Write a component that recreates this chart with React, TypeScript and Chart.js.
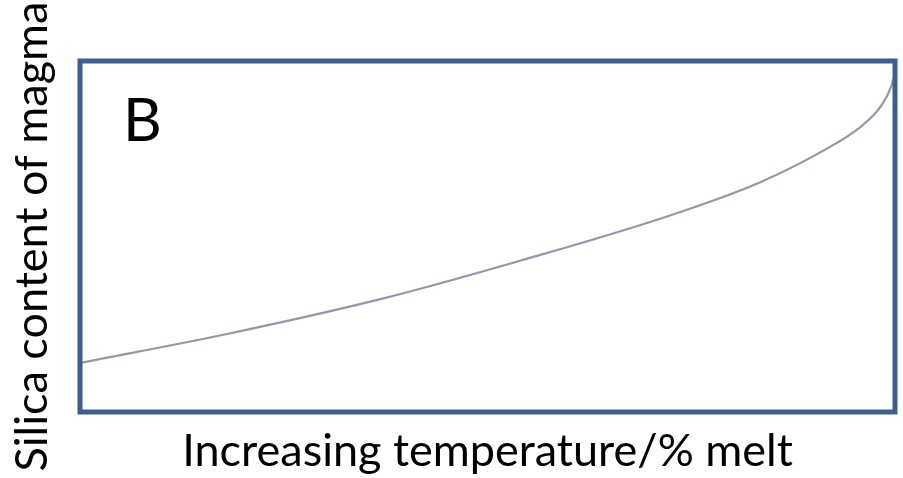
import React, { useEffect, useRef } from "react";
import { Chart, registerables } from "chart.js";

Chart.register(...registerables);

const meltPercent = [0, 18.2, 36.6, 54, 72.4, 83.4, 91.7, 95.7, 98.2, 99.6, 99.8];
const silicaContent = [14, 22.3, 32, 43.1, 56, 65.4, 75.1, 81.1, 86.9, 93.1, 95];
const xAxisLabel = "Increasing temperature/% melt";
const yAxisLabel = "Silica content of magma";
const panelLabel = "B";

const FONT = "Lato, 'Open Sans', sans-serif";

const boxPlugin = {
  id: "boxAndLabel",
  afterDraw(chart: any) {
    const { ctx, chartArea } = chart;
    const { left, top, right, bottom } = chartArea;
    ctx.save();
    ctx.strokeStyle = "#3B5E8E";
    ctx.lineWidth = 5;
    ctx.lineJoin = "miter";
    ctx.strokeRect(left, top, right - left, bottom - top);
    ctx.fillStyle = "#000000";
    ctx.font = `60px ${FONT}`;
    ctx.textBaseline = "alphabetic";
    ctx.textAlign = "left";
    ctx.fillText(panelLabel, left + 43, top + 80);
    ctx.restore();
  },
};

export default function App() {
  const canvasRef = useRef<HTMLCanvasElement | null>(null);

  useEffect(() => {
    document.body.style.margin = "0";
    const canvas = canvasRef.current;
    if (!canvas) return;
    const chart = new Chart(canvas, {
      type: "line",
      data: {
        datasets: [
          {
            data: meltPercent.map((x, i) => ({ x, y: silicaContent[i] })),
            borderColor: "#9297A9",
            borderWidth: 2.2,
            pointRadius: 0,
            cubicInterpolationMode: "monotone",
            fill: false,
          },
        ],
      },
      options: {
        animation: false,
        responsive: false,
        maintainAspectRatio: false,
        layout: { padding: { left: 5, right: 8, top: 61, bottom: 0 } },
        plugins: {
          legend: { display: false },
          tooltip: { enabled: false },
        },
        scales: {
          x: {
            type: "linear",
            min: 0,
            max: 100,
            grid: { display: false, drawTicks: false },
            border: { display: false },
            ticks: { display: false },
            title: {
              display: true,
              text: xAxisLabel,
              color: "#000000",
              font: { family: FONT, size: 45 },
              padding: { top: 12, bottom: 0 },
            },
          },
          y: {
            type: "linear",
            min: 0,
            max: 100,
            grid: { display: false, drawTicks: false },
            border: { display: false },
            ticks: { display: false },
            title: {
              display: true,
              text: yAxisLabel,
              color: "#000000",
              font: { family: FONT, size: 45 },
              padding: { top: 0, bottom: 21 },
            },
          },
        },
      },
      plugins: [boxPlugin],
    });
    return () => chart.destroy();
  }, []);

  return (
    <div style={{ width: 903, height: 478, background: "#ffffff" }}>
      <canvas ref={canvasRef} width={903} height={478} style={{ display: "block" }} />
    </div>
  );
}
